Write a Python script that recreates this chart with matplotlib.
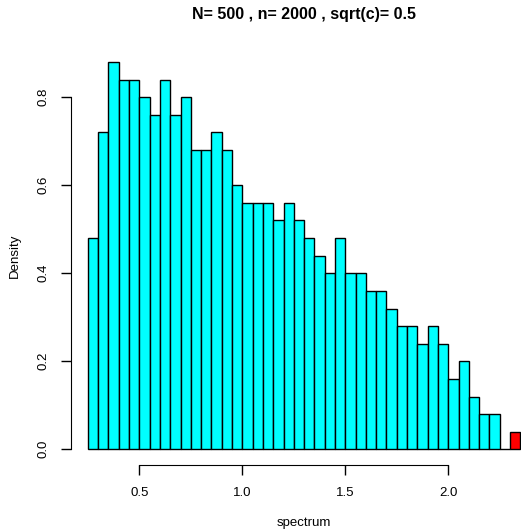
import numpy as np
import matplotlib
matplotlib.use("Agg")
import matplotlib.pyplot as plt

plt.rcParams['font.family'] = ['Liberation Sans', 'DejaVu Sans']

# Histogram of the spectrum (density scale, bin width 0.05)
bin_width = 0.05
bin_start = 0.25
densities = [0.48, 0.72, 0.88, 0.84, 0.84, 0.80, 0.76, 0.84, 0.76, 0.80,
             0.68, 0.68, 0.72, 0.68, 0.60, 0.56, 0.56, 0.56, 0.52, 0.56,
             0.52, 0.48, 0.44, 0.40, 0.48, 0.40, 0.40, 0.36, 0.36, 0.32,
             0.28, 0.28, 0.24, 0.28, 0.24, 0.16, 0.20, 0.12, 0.08, 0.08]
# Outlying eigenvalue bin
outlier_left = 2.30
outlier_density = 0.04

title = "N= 500 , n= 2000 , sqrt(c)= 0.5"
xticks = [0.5, 1.0, 1.5, 2.0]
yticks = [0.0, 0.2, 0.4, 0.6, 0.8]

W, H = 521, 530
fig = plt.figure(figsize=(W / 100, H / 100), dpi=100)
# plot region (pixel coordinates) -> figure fractions
left_px, right_px, top_px, bottom_px = 70.5, 537.7, 46.6, 464.8
ax = fig.add_axes([left_px / W, 1 - bottom_px / H,
                   (right_px - left_px) / W, (bottom_px - top_px) / H])

lefts = bin_start + bin_width * np.arange(len(densities))
ax.bar(lefts, densities, width=bin_width, align='edge',
       color='#00FFFF', edgecolor='black', linewidth=1.0)
# empty bin before the outlier
ax.bar([lefts[-1] + bin_width], [0.0], width=bin_width, align='edge',
       color='#00FFFF', edgecolor='black', linewidth=1.0)
ax.bar([outlier_left], [outlier_density], width=bin_width, align='edge',
       color='red', edgecolor='black', linewidth=1.0)

xmin, xmax = bin_start, outlier_left + bin_width
xr = xmax - xmin
ax.set_xlim(xmin - 0.04 * xr, xmax + 0.04 * xr)
ymax = max(densities)
ax.set_ylim(-0.04 * ymax, ymax * 1.04)

for s in ['top', 'right']:
    ax.spines[s].set_visible(False)
ax.spines['left'].set_bounds(0.0, 0.8)
ax.spines['bottom'].set_bounds(0.5, 2.0)
ax.set_xticks(xticks)
ax.set_xticklabels([f"{v:.1f}" for v in xticks])
ax.set_yticks(yticks)
ax.set_yticklabels([f"{v:.1f}" for v in yticks], rotation=90, va='center')
ax.tick_params(axis='both', length=7, width=1.0, labelsize=9.5, pad=8)
ax.tick_params(axis='x', pad=9)

ax.set_xlabel("spectrum", fontsize=9.5, labelpad=13)
ax.set_ylabel("Density", fontsize=9.5, labelpad=12)
fig.text(304 / W, 1 - 14 / H, title, ha='center', va='center',
         fontsize=11.5, fontweight='bold')

fig.savefig("out.png", dpi=100)
